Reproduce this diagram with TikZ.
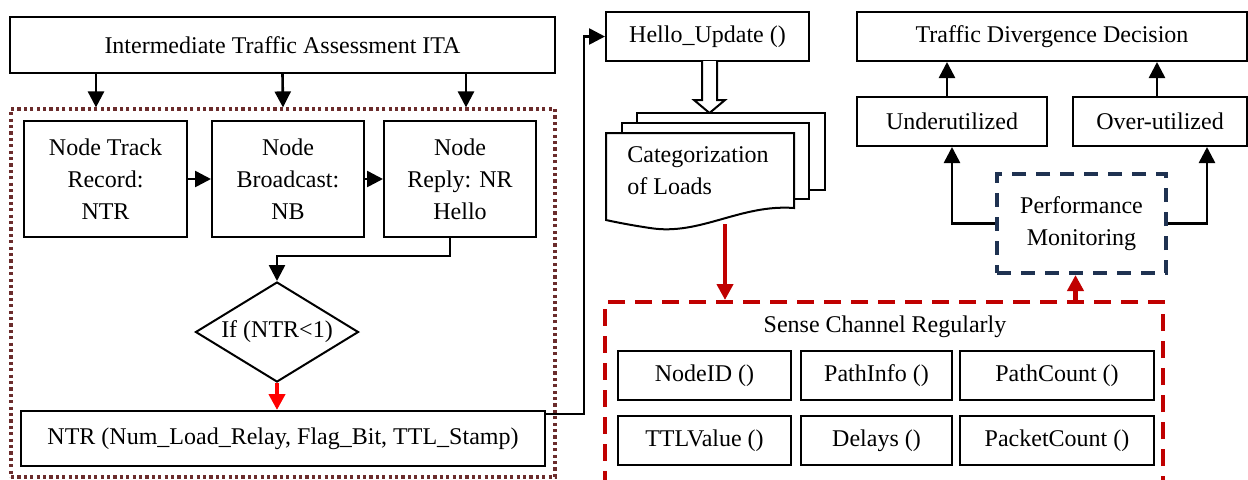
\documentclass[tikz,border=0pt]{standalone}
\usepackage{fontspec}
\setmainfont{Liberation Serif}
\usetikzlibrary{arrows.meta,shapes.geometric}
\definecolor{dotbrown}{HTML}{6B2C2C}
\definecolor{darkred}{HTML}{C00000}
\definecolor{navyblue}{HTML}{1F3251}
\tikzset{
  box/.style={draw, fill=white, line width=1pt, align=center, inner sep=2pt,
    font=\fontsize{12}{16}\selectfont},
  grp/.style={draw=dotbrown, line width=1.6pt, dash pattern=on 1.6pt off 1.6pt},
  arr/.style={-{Triangle[length=8pt,width=8pt]}, line width=1.3pt},
  redarr/.style={-{Triangle[length=8pt,width=8pt]}, line width=2pt, red},
  darkredarr/.style={-{Triangle[length=8pt,width=8pt]}, line width=2.2pt, darkred},
}
\begin{document}
\begin{tikzpicture}[x=0.5pt,y=-0.5pt]
\useasboundingbox (0,0) rectangle (1248,479);
\clip (0,0) rectangle (1248,479);

% Left part
\node[box, minimum width=272.5pt, minimum height=28pt] (ita) at (282.5,45) {Intermediate Traffic Assessment ITA};
\node[grp, minimum width=272pt, minimum height=184pt] (grp) at (283,293) {};
\node[box, minimum width=81.5pt, minimum height=58pt] (ntr) at (105.5,179) {Node Track\\Record:\\NTR};
\node[box, minimum width=76pt, minimum height=58pt] (nb) at (288,179) {Node\\Broadcast:\\NB};
\node[box, minimum width=76pt, minimum height=58pt] (nr) at (460,179) {Node\\Reply: NR\\Hello};
\node[box, diamond, aspect=1.63, inner sep=0pt, minimum width=81.5pt, minimum height=50pt] (cond) at (277,332) {If (NTR<1)};
\node[box, minimum width=262pt, minimum height=27.5pt] (ntrl) at (283,438.5) {NTR (Num\_Load\_Relay, Flag\_Bit, TTL\_Stamp)};

\draw[arr] ([xshift=43.5pt]ita.south west) coordinate (a1) -- (a1 |- grp.north);
\draw[arr] (ita.south) -- (grp.north);
\draw[arr] ([xshift=-45pt]ita.south east) coordinate (a3) -- (a3 |- grp.north);
\draw[arr] (ntr.east) -- (nb.west);
\draw[arr] (nb.east) -- (nr.west);
\draw[arr] ([xshift=-5pt]nr.south) -- ++(0,18) -| (cond.north);
\draw[redarr] (cond.south) -- (cond.south |- ntrl.north);

% Middle part
\node[box, minimum width=101.5pt, minimum height=24.5pt] (hello) at (707.5,36.5) {Hello\_Update ()};
\draw[arr] ([yshift=-2pt]ntrl.north east) -- ++(38,0) |- (hello.west);
\draw[line width=1pt, fill=white] (702,61) -- (702,100) -- (694,100) -- (709.5,113)
  -- (725,100) -- (717,100) -- (717,61);

% stacked documents
\draw[line width=1pt, fill=white] (637,113) rectangle (825,190);
\draw[line width=1pt, fill=white] (622,123) rectangle (809,199);
\draw[line width=1pt, fill=white] (606,133) -- (794,133) -- (794,208)
  .. controls (740,204) and (700,236) .. (650,228)
  .. controls (630,225) and (615,222) .. (606,220) -- cycle;
\node[align=left, anchor=west, inner sep=0pt, font=\fontsize{12}{16}\selectfont] (cat) at (627,171) {Categorization\\of Loads};
\coordinate (catout) at (725,224);

\node[draw=darkred, line width=2pt, dash pattern=on 8.5pt off 5pt, minimum width=279pt, minimum height=100pt] (sense) at (884,402) {};
\node[font=\fontsize{12}{16}\selectfont] (senselbl) at (885,327) {Sense Channel Regularly};
\draw[darkredarr] (catout) -- (catout |- sense.north);

% Sense boxes
\node[box, minimum width=86.5pt, minimum height=24.5pt] (nid) at (704.5,375.5) {NodeID ()};
\node[box, minimum width=75.5pt, minimum height=24.5pt] (pinfo) at (876.5,375.5) {PathInfo ()};
\node[box, minimum width=97pt, minimum height=24.5pt] (pcount) at (1057,375.5) {PathCount ()};
\node[box, minimum width=86.5pt, minimum height=24.5pt] (ttl) at (704.5,440.5) {TTLValue ()};
\node[box, minimum width=75.5pt, minimum height=24.5pt] (dly) at (876.5,440.5) {Delays ()};
\node[box, minimum width=97pt, minimum height=24.5pt] (pkt) at (1057,440.5) {PacketCount ()};

% Right part
\node[box, minimum width=195pt, minimum height=24.5pt] (tdd) at (1052,36.5) {Traffic Divergence Decision};
\node[box, minimum width=95pt, minimum height=24.5pt] (under) at (952,121.5) {Underutilized};
\node[box, minimum width=87pt, minimum height=24.5pt] (over) at (1160,121.5) {Over-utilized};
\node[box, draw=navyblue, line width=2pt, dash pattern=on 7pt off 5pt, minimum width=84.5pt, minimum height=49.5pt] (perf) at (1081.5,223.5) {Performance\\Monitoring};

\draw[arr] ([xshift=-2.5pt]under.north) coordinate (u1) -- (u1 |- tdd.south);
\draw[arr] ([xshift=-1.5pt]over.north) coordinate (o1) -- (o1 |- tdd.south);
\draw[arr] (perf.west) -| (under.south);
\draw[arr] (perf.east) -| ([xshift=23.5pt]over.south);
\coordinate (pin) at ([xshift=-3pt]perf.south);
\draw[darkredarr] (pin |- sense.north) -- (pin);
\end{tikzpicture}
\end{document}
